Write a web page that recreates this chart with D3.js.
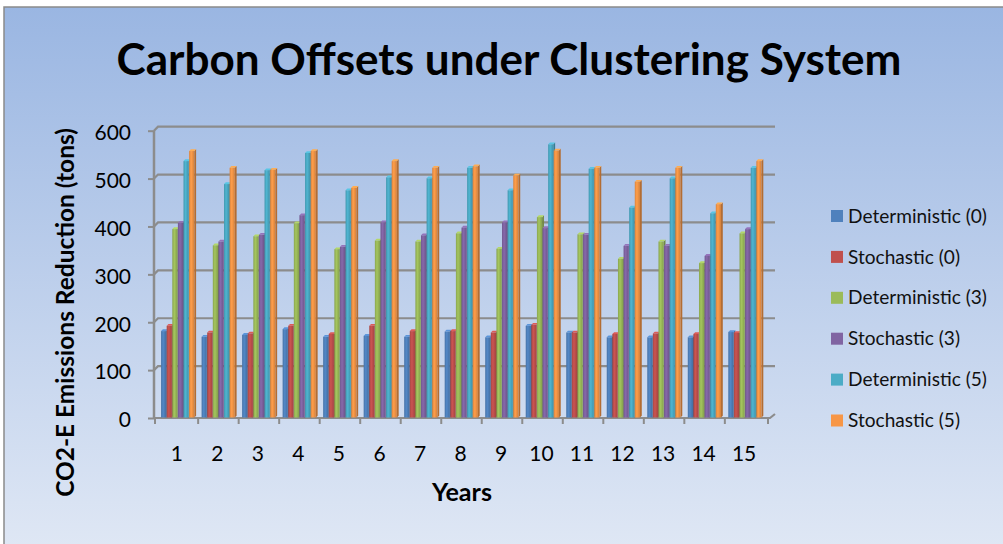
<!DOCTYPE html>
<html><head><meta charset="utf-8">
<script src="https://cdn.jsdelivr.net/npm/d3@7"></script>
<style>body{margin:0;background:#fff}svg{display:block}</style>
</head><body>
<svg id="c" width="1003" height="544"></svg>
<script>
const years = ["1","2","3","4","5","6","7","8","9","10","11","12","13","14","15"];
const seriesNames = ["Deterministic (0)","Stochastic (0)","Deterministic (3)","Stochastic (3)","Deterministic (5)","Stochastic (5)"];
const det0 = [179,167,171,183,167,169,167,178,166,190,176,166,166,166,177];
const sto0 = [190,176,174,190,173,190,179,179,176,192,176,173,174,173,175];
const det3 = [392,358,377,404,350,368,366,383,351,417,381,330,366,321,383];
const sto3 = [405,366,380,421,355,406,379,395,406,394,380,357,357,336,392];
const det5 = [534,486,515,551,473,500,498,520,473,569,518,437,498,425,520];
const sto5 = [555,520,516,555,478,534,520,523,504,556,520,491,520,444,534];
const yTicks = [0,100,200,300,400,500,600];
const colors = ["#4F81BD","#C0504D","#9BBB59","#8064A2","#4BACC6","#F79646"];
const allSeries = [det0,sto0,det3,sto3,det5,sto5];

const svg = d3.select("#c");
const defs = svg.append("defs");
const bg = defs.append("linearGradient").attr("id","bg").attr("x1",0).attr("y1",0).attr("x2",0).attr("y2",1);
bg.append("stop").attr("offset","0%").attr("stop-color","#9AB6E2");
bg.append("stop").attr("offset","100%").attr("stop-color","#E0E8F5");

colors.forEach((c,i)=>{
  const g = defs.append("linearGradient").attr("id","bar"+i).attr("x1",0).attr("y1",0).attr("x2",1).attr("y2",0);
  g.append("stop").attr("offset","0%").attr("stop-color",d3.color(c).darker(0.35));
  g.append("stop").attr("offset","40%").attr("stop-color",d3.color(c).brighter(0.15));
  g.append("stop").attr("offset","100%").attr("stop-color",d3.color(c).darker(0.45));
});

svg.append("rect").attr("x",4).attr("y",7).attr("width",1010).attr("height",550)
  .attr("fill","url(#bg)").attr("stroke","#8a8a8a").attr("stroke-width",1.5);

const x = d3.scaleBand().domain(years).range([155,768]).paddingInner(0.17).paddingOuter(0.15);
const y = d3.scaleLinear().domain([0,600]).range([418,130.7]);
const DX = 4, DY = 4;
const gridColor = "#8c8c8c";

// back wall gridlines
svg.append("g").selectAll("path").data(yTicks.slice(1)).join("path")
  .attr("d", t => `M154,${y(t)} L${154+DX},${y(t)-DY} L775,${y(t)-DY}`)
  .attr("fill","none").attr("stroke",gridColor).attr("stroke-width",2.2);

// floor
svg.append("path").attr("d",`M154,${y(0)} L770,${y(0)} L775,${y(0)-DY}`)
  .attr("fill","none").attr("stroke",gridColor).attr("stroke-width",2.2);

// bars
const slot = x.bandwidth()/6;
const fw = slot - 0.4, bdx = 1.8, bdy = 1.8;
const barG = svg.append("g");
const barData = [];
years.forEach((yr,j)=>allSeries.forEach((s,i)=>barData.push({yr,i,v:s[j]})));
const bars = barG.selectAll("g").data(barData).join("g");
bars.each(function(d){
  const g = d3.select(this);
  const x0 = x(d.yr) + d.i*slot;
  const top = y(d.v) - 1.2;
  const bot = y(0) - 0.5;
  const c = colors[d.i];
  g.append("path").attr("d",`M${x0+fw},${top} L${x0+fw+bdx},${top-bdy} L${x0+fw+bdx},${bot-bdy} L${x0+fw},${bot}Z`)
    .attr("fill",d3.color(c).darker(0.9));
  g.append("path").attr("d",`M${x0},${top} L${x0+bdx},${top-bdy} L${x0+fw+bdx},${top-bdy} L${x0+fw},${top}Z`)
    .attr("fill",d3.color(c).brighter(0.4));
  g.append("rect").attr("x",x0).attr("y",top).attr("width",fw).attr("height",bot-top)
    .attr("fill",`url(#bar${d.i})`);
});

// front y axis
const yAxis = d3.axisLeft(y).tickValues(yTicks).tickSize(6).tickPadding(17);
const ya = svg.append("g").attr("transform","translate(154,0)").call(yAxis);
ya.select(".domain").attr("stroke",gridColor).attr("stroke-width",2.5).attr("d",`M0,${y(0)}V${y(600)}`);
ya.selectAll(".tick line").attr("stroke",gridColor).attr("stroke-width",2);
ya.selectAll(".tick text").attr("font-family","Lato, 'Open Sans', sans-serif").attr("font-size",21).attr("fill","#000").attr("dy","0.42em");

// x axis
const xa = svg.append("g").attr("transform",`translate(0,${y(0)})`).call(d3.axisBottom(x).tickSize(0).tickPadding(28));
xa.select(".domain").remove();
xa.selectAll(".tick text").attr("font-family","Lato, 'Open Sans', sans-serif").attr("font-size",21).attr("fill","#000").attr("dx","-1");
const bounds = years.map(yv => x(yv) - x.step()*x.paddingInner()/2 - (yv==="1" ? x.step()*(x.paddingOuter()-x.paddingInner()/2) : 0));
bounds.push(768);
svg.append("g").selectAll("line").data(bounds).join("line")
  .attr("x1",d=>d).attr("x2",d=>d).attr("y1",y(0)).attr("y2",y(0)+6)
  .attr("stroke",gridColor).attr("stroke-width",2);

function fit(sel, target){
  let fs = +sel.attr("font-size");
  const w = sel.node().getComputedTextLength();
  sel.attr("font-size", fs*target/w);
}

// title
const title = svg.append("text").attr("x",509).attr("y",75).attr("text-anchor","middle")
  .attr("font-family","Lato, 'Open Sans', sans-serif").attr("font-weight","bold").attr("font-size",44).attr("fill","#000")
  .text("Carbon Offsets under Clustering System");
fit(title, 785);

// y title
const yt = svg.append("text").attr("transform","translate(74,312.5) rotate(-90)").attr("text-anchor","middle")
  .attr("font-family","Lato, 'Open Sans', sans-serif").attr("font-weight","bold").attr("font-size",20).attr("fill","#000")
  .text("CO2-E Emissions Reduction (tons)");
fit(yt, 369);

// x title
const xt = svg.append("text").attr("x",462).attr("y",501).attr("text-anchor","middle")
  .attr("font-family","Lato, 'Open Sans', sans-serif").attr("font-weight","bold").attr("font-size",21).attr("fill","#000")
  .text("Years");
fit(xt, 60);

// legend
const leg = svg.append("g").selectAll("g").data(seriesNames).join("g")
  .attr("transform",(d,i)=>`translate(831,${216 + i*40.9})`);
leg.append("rect").attr("x",0).attr("y",-6).attr("width",12).attr("height",12).attr("fill",(d,i)=>colors[i]);
const lt = leg.append("text").attr("x",17).attr("y",0).attr("dy","0.35em")
  .attr("font-family","Lato, 'Open Sans', sans-serif").attr("font-size",16.5).attr("fill","#111").text(d=>d);
const w0 = lt.nodes()[0].getComputedTextLength();
lt.attr("font-size", 16.5*139/w0);
</script>
</body></html>
